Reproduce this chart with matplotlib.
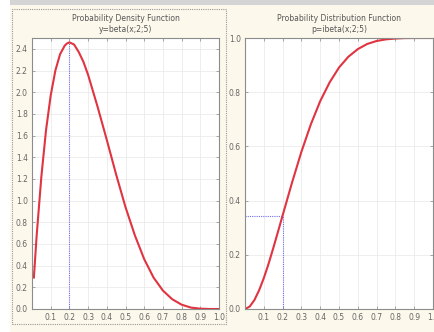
import matplotlib
matplotlib.use('Agg')
import matplotlib.pyplot as plt
from matplotlib.patches import Rectangle

# values
x_pdf = [0.01, 0.025, 0.05, 0.075, 0.1, 0.125, 0.15, 0.175, 0.1875, 0.2, 0.2125, 0.225, 0.25, 0.275,
         0.3, 0.35, 0.4, 0.45, 0.5, 0.55, 0.6, 0.65, 0.7, 0.75, 0.8, 0.85, 0.9, 0.95, 1.0]
y_pdf = [0.29, 0.68, 1.22, 1.65, 1.97, 2.20, 2.35, 2.43, 2.45, 2.46, 2.45, 2.44, 2.37, 2.28,
         2.16, 1.87, 1.56, 1.24, 0.94, 0.68, 0.46, 0.29, 0.17, 0.09, 0.04, 0.013, 0.003, 0.0, 0.0]

x_cdf = [0.0, 0.025, 0.05, 0.075, 0.1, 0.125, 0.15, 0.175, 0.2, 0.25, 0.3, 0.35, 0.4,
         0.45, 0.5, 0.55, 0.6, 0.65, 0.7, 0.75, 0.8, 0.85, 0.9, 0.95, 1.0]
y_cdf = [0.0, 0.009, 0.033, 0.069, 0.114, 0.166, 0.224, 0.284, 0.345, 0.466, 0.580, 0.681, 0.767,
         0.836, 0.891, 0.931, 0.959, 0.978, 0.989, 0.995, 0.998, 0.9996, 0.9999, 1.0, 1.0]

mode_x = 0.2
mode_y = 2.458
cdf_at_mode = 0.345

x_ticks = [0.1, 0.2, 0.3, 0.4, 0.5, 0.6, 0.7, 0.8, 0.9, 1.0]
pdf_yticks = [0.0, 0.2, 0.4, 0.6, 0.8, 1.0, 1.2, 1.4, 1.6, 1.8, 2.0, 2.2, 2.4]
cdf_yticks = [0.0, 0.2, 0.4, 0.6, 0.8, 1.0]

W, H = 434, 332
cream = '#fcf8ec'
red = '#e03440'
blue = '#7070ee'


def px(x0, y0, x1, y1):
    # pixel box (top-left origin) -> figure fraction rect
    return [x0 / W, 1 - y1 / H, (x1 - x0) / W, (y1 - y0) / H]


fig = plt.figure(figsize=(W / 100, H / 100), dpi=100)
fig.patch.set_facecolor('white')

# panel backgrounds
fig.patches.append(Rectangle((10 / W, 0), 424 / W, 1 - 5 / H, transform=fig.transFigure,
                             facecolor=cream, edgecolor='none', zorder=-3))
fig.patches.append(Rectangle((10 / W, 1 - 5 / H), 424 / W, 5 / H, transform=fig.transFigure,
                             facecolor='#d4d4d4', edgecolor='none', zorder=-3))
fig.patches.append(Rectangle((12 / W, 1 - 324 / H), 214 / W, 315 / H, transform=fig.transFigure,
                             facecolor='none', edgecolor='#999999', linestyle=(0, (1, 1)),
                             linewidth=0.8, zorder=-2))


def style(ax, yticks, ylim):
    ax.set_zorder(5)
    ax.set_facecolor('white')
    ax.set_xlim(0, 1.0)
    ax.set_ylim(*ylim)
    ax.set_xticks(x_ticks)
    ax.set_xticklabels([f'{t:.1f}' for t in x_ticks])
    ax.set_yticks(yticks)
    ax.set_yticklabels([f'{t:.1f}' for t in yticks])
    ax.tick_params(direction='in', length=2, width=0.6, colors='#999999',
                   labelcolor='#666666', labelsize=5.5, top=True, right=True, pad=3)
    ax.grid(True, color='#ebebeb', linewidth=0.6)
    for s in ax.spines.values():
        s.set_color('#8c8c8c')
        s.set_linewidth(0.8)


ax1 = fig.add_axes(px(32, 38, 219, 309))
style(ax1, pdf_yticks, (0, 2.5))
ax1.plot([mode_x, mode_x], [0, mode_y], color=blue, linestyle=(0, (1, 1)), linewidth=0.8)
ax1.plot(x_pdf, y_pdf, color=red, linewidth=1.5)
ax1.set_title('Probability Density Function\ny=beta(x;2;5)', fontsize=5.5,
              color='#555555', pad=4, linespacing=1.3)

ax2 = fig.add_axes(px(245, 38, 433, 309))
style(ax2, cdf_yticks, (0, 1.0))
ax2.plot([mode_x, mode_x], [0, cdf_at_mode], color=blue, linestyle=(0, (1, 1)), linewidth=0.8)
ax2.plot([0, mode_x], [cdf_at_mode, cdf_at_mode], color=blue, linestyle=(0, (1, 1)), linewidth=0.8)
ax2.plot(x_cdf, y_cdf, color=red, linewidth=1.5)
ax2.set_title('Probability Distribution Function\np=ibeta(x;2;5)', fontsize=5.5,
              color='#555555', pad=4, linespacing=1.3)

fig.savefig('out.png', dpi=100)
